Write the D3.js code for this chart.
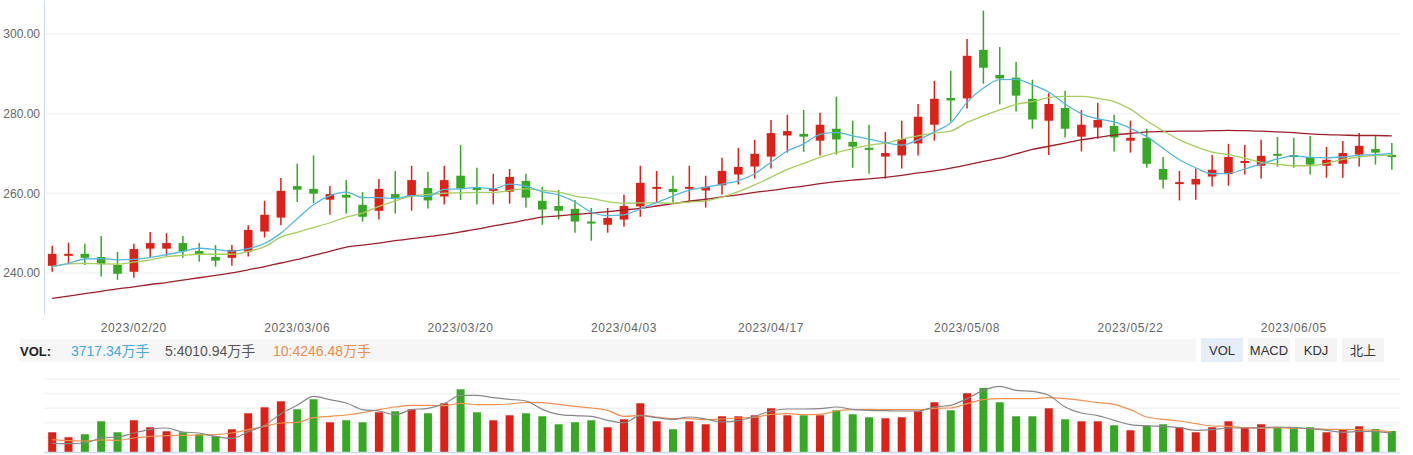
<!DOCTYPE html>
<html>
  <head>
    <meta charset="UTF-8" />
    <title>K线</title>
    <script src="https://d3js.org/d3.v7.min.js"></script>
    <style>
      body { margin: 0; background: #fff; }
      svg { display: block; font-family: "Liberation Sans", Arial, "Noto Sans CJK SC", sans-serif; }
    </style>
  </head>
  <body>
    <svg width="1413" height="455"></svg>
    <script>
      var dates = [
        "2023/02/13","2023/02/14","2023/02/15","2023/02/16","2023/02/17",
        "2023/02/20","2023/02/21","2023/02/22","2023/02/23","2023/02/24",
        "2023/02/27","2023/02/28","2023/03/01","2023/03/02","2023/03/03",
        "2023/03/06","2023/03/07","2023/03/08","2023/03/09","2023/03/10",
        "2023/03/13","2023/03/14","2023/03/15","2023/03/16","2023/03/17",
        "2023/03/20","2023/03/21","2023/03/22","2023/03/23","2023/03/24",
        "2023/03/27","2023/03/28","2023/03/29","2023/03/30","2023/03/31",
        "2023/04/03","2023/04/04","2023/04/06","2023/04/07",
        "2023/04/10","2023/04/11","2023/04/12","2023/04/13","2023/04/14",
        "2023/04/17","2023/04/18","2023/04/19","2023/04/20","2023/04/21",
        "2023/04/24","2023/04/25","2023/04/26","2023/04/27","2023/04/28",
        "2023/05/04","2023/05/05",
        "2023/05/08","2023/05/09","2023/05/10","2023/05/11","2023/05/12",
        "2023/05/15","2023/05/16","2023/05/17","2023/05/18","2023/05/19",
        "2023/05/22","2023/05/23","2023/05/24","2023/05/25","2023/05/26",
        "2023/05/29","2023/05/30","2023/05/31","2023/06/01","2023/06/02",
        "2023/06/05","2023/06/06","2023/06/07","2023/06/08","2023/06/09",
        "2023/06/12","2023/06/13"
      ];

      var open = [
        241.8,244.6,244.8,244.0,242.0,240.3,246.1,246.1,247.5,245.5,
        244.0,243.8,245.4,250.4,253.9,261.8,261.1,258.4,259.6,257.1,
        255.6,259.8,259.3,261.3,259.2,264.4,261.4,260.6,260.4,263.1,
        258.1,256.8,256.1,252.9,252.1,253.4,256.7,261.4,261.1,261.1,
        260.7,262.0,264.7,266.7,269.2,274.5,274.9,273.2,276.2,272.9,
        271.4,269.2,269.5,272.5,277.2,283.9,283.8,296.0,289.7,289.0,
        283.7,278.2,281.4,274.2,276.5,276.9,273.2,273.9,266.1,262.3,
        262.2,264.2,264.8,267.7,266.9,269.9,269.6,269.1,266.9,267.4,
        269.7,271.1,269.6
      ];
      var close = [
        244.8,244.8,243.8,242.2,239.8,246.0,247.5,247.5,245.4,244.7,
        243.1,245.8,250.8,254.6,260.6,260.9,259.9,259.8,258.9,254.1,
        261.1,258.8,263.3,258.2,263.3,261.2,260.8,261.1,264.1,258.9,
        255.9,255.6,252.9,252.5,253.8,256.8,262.6,261.6,260.3,261.6,
        261.6,265.6,266.6,269.9,275.1,275.6,274.2,277.2,273.5,271.7,
        271.0,270.1,273.6,279.2,283.7,283.3,294.5,291.5,288.8,284.5,
        278.5,282.4,276.2,277.2,278.4,274.0,273.9,267.4,263.4,262.8,
        263.6,265.9,269.1,268.1,269.4,269.5,269.2,267.2,268.4,270.1,
        271.9,270.2,269.2
      ];
      var high = [
        246.8,247.6,247.3,249.3,245.3,247.3,250.3,250.0,249.3,247.5,
        247.0,247.0,252.0,258.1,263.8,267.4,269.5,261.8,263.3,260.3,
        263.6,265.6,266.9,265.4,266.9,272.1,266.4,264.9,266.1,264.9,
        261.6,260.8,258.3,256.3,256.3,259.6,266.9,265.6,264.4,266.9,
        264.4,268.9,271.4,273.4,278.4,279.7,280.9,280.2,284.2,278.2,
        277.2,275.4,278.2,282.4,288.2,290.7,298.7,305.8,296.7,293.0,
        288.5,285.1,285.7,280.9,282.7,279.7,278.2,276.2,269.1,265.6,
        266.2,269.6,272.4,272.1,273.4,274.1,273.9,274.4,271.6,273.1,
        275.1,274.6,272.6
      ];
      var low = [
        240.3,242.4,242.0,239.1,238.3,238.8,243.8,244.3,243.8,242.8,
        241.6,241.8,244.1,248.9,252.0,257.8,257.5,254.6,254.9,252.9,
        253.4,254.9,255.6,256.2,257.2,258.3,257.2,257.2,257.4,256.4,
        252.1,253.4,250.1,248.1,250.1,251.6,254.1,257.7,257.7,257.9,
        256.4,259.7,262.2,263.7,266.2,270.2,270.4,269.5,269.7,266.4,
        264.9,263.7,266.2,269.5,273.2,278.0,281.3,287.5,282.3,280.5,
        276.2,269.6,274.0,270.5,273.7,270.5,270.2,266.4,261.2,258.2,
        258.4,261.7,261.9,264.7,263.7,266.7,266.4,264.7,263.9,263.9,
        266.7,267.2,265.9
      ];

      var ma5 = [
        241.6,242.4,243.5,243.6,243.3,243.4,243.9,244.6,245.4,246.2,
        245.9,245.5,246.1,247.4,250.0,253.6,257.1,259.4,260.3,258.9,
        258.9,258.7,259.4,259.2,261.0,261.1,261.5,261.1,262.3,261.8,
        260.4,259.6,257.8,255.3,254.4,254.6,256.1,257.7,259.3,260.8,
        261.5,262.3,263.1,264.9,267.8,270.6,272.4,274.8,275.3,274.4,
        273.6,272.7,272.1,273.4,275.4,277.7,282.8,286.4,288.5,288.6,
        287.2,285.4,282.4,280.0,278.7,277.9,276.3,274.2,271.3,268.4,
        266.4,264.9,265.0,266.1,267.4,268.6,269.4,269.0,268.9,269.1,
        269.5,269.7,270.0
      ];
      var ma10 = [
        241.6,242.3,242.4,242.3,242.2,242.7,243.3,244.1,244.4,244.7,
        244.7,244.7,245.4,246.6,249.0,250.2,251.4,252.6,254.0,255.0,
        256.7,258.1,259.3,259.7,260.0,260.1,260.2,260.2,260.7,261.1,
        260.7,260.3,259.3,258.7,257.9,257.5,257.6,257.6,257.5,257.8,
        258.1,259.0,260.4,262.1,264.0,266.0,267.5,269.0,270.2,271.2,
        272.1,272.6,273.6,274.4,275.1,275.6,277.8,279.4,280.9,282.3,
        283.0,284.0,284.3,284.3,283.8,283.0,281.1,278.2,275.7,273.4,
        271.7,270.3,269.7,268.8,267.8,267.3,266.9,266.9,267.5,268.5,
        269.1,269.5,269.6
      ];
      var ma60 = [
        233.6,234.2,234.8,235.4,236.0,236.5,237.1,237.6,238.2,238.8,
        239.4,240.0,240.8,241.6,242.5,243.4,244.4,245.4,246.5,247.0,
        247.5,248.1,248.6,249.1,249.6,250.3,251.0,251.8,252.5,253.3,
        254.0,254.3,254.7,255.0,255.4,255.8,256.2,256.8,257.4,258.0,
        258.5,259.1,259.6,260.2,260.7,261.3,261.8,262.4,262.9,263.3,
        263.6,264.0,264.5,265.1,265.6,266.3,267.1,268.0,268.8,269.9,
        271.0,271.8,272.6,273.4,274.0,274.6,275.0,275.4,275.5,275.6,
        275.6,275.7,275.8,275.7,275.6,275.4,275.2,274.9,274.7,274.6,
        274.5,274.5,274.4
      ];

      // 成交量（万手）
      var volume = [
        3550,2650,3190,5530,3550,5710,4450,3730,3550,3190,
        2830,4090,6970,8050,9130,7690,9490,5350,5710,5350,
        7150,7330,7690,6970,8770,11290,7150,5710,6610,6970,
        6430,4990,5350,5710,4450,5890,8770,5530,4090,5530,
        4990,6430,6430,6610,7870,6610,6610,6610,7510,6790,
        6250,6070,6250,7330,8950,7510,10570,11520,8950,6430,
        6430,7870,5890,5530,5530,4810,3910,4810,4990,4450,
        3550,4450,5530,4450,4990,4450,4450,4450,3550,4090,
        4630,4140,3780
      ];
      var volMa5 = [
        1560,1500,1620,2520,2700,3420,4080,4320,3600,3420,
        2820,2460,3660,4800,6900,8400,10020,9420,8820,7620,
        7380,6720,7620,7860,8700,10200,10200,9780,9480,9180,
        7680,6780,6540,6420,5700,5280,6540,6180,5880,6300,
        5940,5400,5640,6420,7380,7740,7740,7800,8100,7680,
        7500,7440,7380,7380,8100,8400,9600,11100,11820,11100,
        10920,10200,8100,7020,6540,5700,4920,4680,4620,4380,
        3900,4020,4320,4320,4380,4500,4380,4200,3900,3540,
        3720,3660,3360
      ];
      var volMa10 = [
        2220,2040,1980,2160,2100,2520,2820,2940,3000,3060,
        3120,3420,4020,4620,5220,5340,6180,6420,6660,7080,
        7620,8100,8400,8400,8340,8760,8520,8520,8640,8940,
        8880,8580,8220,7920,7500,6420,6600,6300,6000,6000,
        5820,5940,6120,6240,6780,6900,6720,6780,7380,7620,
        7680,7620,7620,7620,7860,7920,8700,9420,9600,9600,
        9600,9780,9600,9300,8880,8580,7620,6300,5880,5580,
        5100,4680,4620,4380,4260,4380,4260,4200,4080,4080,
        4020,3900,3600
      ];

      var priceTicks = [240, 260, 280, 300];
      var dateTicks = ["2023/02/20","2023/03/06","2023/03/20","2023/04/03",
                       "2023/04/17","2023/05/08","2023/05/22","2023/06/05"];
      var volText = ["3717.34万手", "5:4010.94万手", "10:4246.48万手"];
      var buttons = ["VOL", "MACD", "KDJ", "北上"];

      var up = "#dc2218", down = "#36a824";
      var svg = d3.select("svg");
      var left = 44, right = 1400;

      var x = d3.scaleBand().domain(dates).range([left, right]);
      var cx = function (i) { return x(dates[i]) + x.bandwidth() / 2; };
      var y = d3.scaleLinear().domain([229.7, 308.5]).range([314, 0]);
      var yv = d3.scaleLinear().domain([0, 13140]).range([452, 379]);

      // price grid
      svg.append("g").selectAll("line").data(priceTicks).enter().append("line")
        .attr("x1", left).attr("x2", right)
        .attr("y1", function (d) { return y(d); }).attr("y2", function (d) { return y(d); })
        .attr("stroke", "#f1f3f6").attr("stroke-width", 1.5);

      var yAxis = svg.append("g")
        .attr("transform", "translate(" + left + ",0)")
        .call(d3.axisLeft(y).tickValues(priceTicks).tickFormat(d3.format(".2f"))
          .tickSize(0).tickSizeOuter(0).tickPadding(4));
      yAxis.select(".domain").attr("stroke", "#c9d9ee");
      yAxis.selectAll("text").attr("fill", "#666").attr("font-size", 12)
        .attr("font-family", "Liberation Sans, Arial, sans-serif");

      var xAxis = svg.append("g")
        .attr("transform", "translate(0,318)")
        .call(d3.axisBottom(x).tickValues(dateTicks).tickSize(0).tickPadding(5));
      xAxis.select(".domain").remove();
      xAxis.selectAll("text").attr("fill", "#666").attr("font-size", 12)
        .attr("letter-spacing", "0.6px")
        .attr("font-family", "Liberation Sans, Arial, sans-serif");

      // candles
      var idx = d3.range(dates.length);
      var candles = svg.append("g").selectAll("g").data(idx).enter().append("g");
      var colorOf = function (i) { return close[i] >= open[i] ? up : down; };
      candles.append("line")
        .attr("x1", cx).attr("x2", cx)
        .attr("y1", function (i) { return y(high[i]); })
        .attr("y2", function (i) { return y(low[i]); })
        .attr("stroke", colorOf).attr("stroke-width", 1.5);
      candles.append("rect")
        .attr("x", function (i) { return cx(i) - 4.3; })
        .attr("width", 8.6)
        .attr("y", function (i) { return y(Math.max(open[i], close[i])); })
        .attr("height", function (i) {
          return Math.max(2, Math.abs(y(open[i]) - y(close[i])));
        })
        .attr("fill", colorOf);

      var priceLine = d3.line()
        .x(function (d, i) { return cx(i); })
        .y(function (d) { return y(d); })
        .curve(d3.curveMonotoneX);
      [[ma60, "#9e1f2c"], [ma10, "#a7cd5d"], [ma5, "#55b7dc"]].forEach(function (s) {
        svg.append("path").attr("d", priceLine(s[0]))
          .attr("fill", "none").attr("stroke", s[1]).attr("stroke-width", 1.3);
      });

      // VOL header
      svg.append("rect").attr("x", 20).attr("y", 339).attr("width", 1176).attr("height", 23)
        .attr("fill", "#f6f6f6");
      svg.append("text").attr("x", 20).attr("y", 355.5).attr("font-size", 13)
        .attr("font-weight", "bold").attr("fill", "#222").text("VOL:");
      var textX = [71, 165, 273], textC = ["#45a9da", "#555", "#ee8a4a"];
      volText.forEach(function (t, i) {
        svg.append("text").attr("x", textX[i]).attr("y", 356).attr("font-size", 14)
          .attr("fill", textC[i]).text(t);
      });
      var btn = svg.append("g").selectAll("g").data(buttons).enter().append("g")
        .attr("transform", function (d, i) { return "translate(" + (1201 + i * 47) + ",338)"; });
      btn.append("rect").attr("width", 42).attr("height", 24)
        .attr("fill", function (d, i) { return i === 0 ? "#e5eef9" : "#f4f4f4"; });
      btn.append("text").attr("x", 21).attr("y", 17).attr("text-anchor", "middle")
        .attr("font-size", 13).attr("fill", "#333").text(function (d) { return d; });

      // volume panel
      svg.append("g").selectAll("line").data(d3.range(1, 6)).enter().append("line")
        .attr("x1", left).attr("x2", right)
        .attr("y1", function (k) { return yv(k * 2628); }).attr("y2", function (k) { return yv(k * 2628); })
        .attr("stroke", "#f1f3f6").attr("stroke-width", 1.5);
      svg.append("g").selectAll("rect").data(idx).enter().append("rect")
        .attr("x", function (i) { return cx(i) - 4; })
        .attr("width", 8)
        .attr("y", function (i) { return yv(volume[i]); })
        .attr("height", function (i) { return yv(0) - yv(volume[i]); })
        .attr("fill", colorOf);
      svg.append("line").attr("x1", left).attr("x2", right)
        .attr("y1", yv(0) + 0.5).attr("y2", yv(0) + 0.5)
        .attr("stroke", "#c9d9ee").attr("stroke-width", 1.5);

      var volLine = d3.line()
        .x(function (d, i) { return cx(i); })
        .y(function (d) { return yv(d); })
        .curve(d3.curveMonotoneX);
      [[volMa10, "#f1914f"], [volMa5, "#888888"]].forEach(function (s) {
        svg.append("path").attr("d", volLine(s[0]))
          .attr("fill", "none").attr("stroke", s[1]).attr("stroke-width", 1.2);
      });
    </script>
  </body>
</html>
